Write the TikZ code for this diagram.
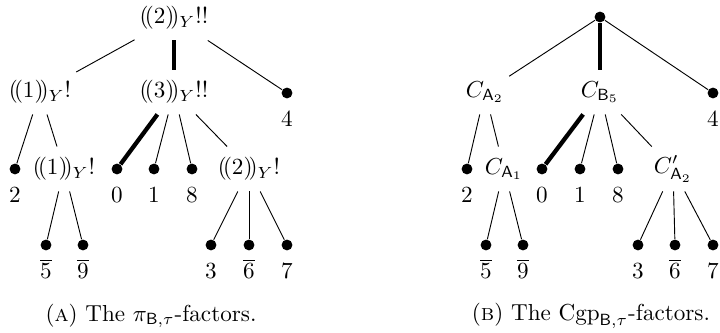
\documentclass[tikz,border=0pt]{standalone}
\usepackage{amsmath,amssymb}
\usetikzlibrary{positioning}

\begin{document}
\begin{tikzpicture}[x=0.0152cm, y=-0.0152cm,
  leaf/.style={circle, fill, inner sep=0pt, minimum size=4.7pt},
  factor/.style={inner xsep=2pt, inner ysep=0pt, minimum height=19pt},
  num/.style={inner sep=1pt, text height=6.44pt, text depth=0pt},
  heavy/.style={line width=1.85pt}]

\useasboundingbox (0,0) rectangle (720,333);

% --- (A) the pi-factors ---
\node[factor] (pr) at (174,18) {$(\!(2)\!)_Y!!$};

\node[factor] (pa) at (40,92) {$(\!(1)\!)_Y!$};
\node[factor] (pb) at (174,92) {$(\!(3)\!)_Y!!$};
\node[leaf] (pl4) at (287,93) {};
\node[num, below=4.2pt of pl4] (pt4) {$4$};

\node[leaf] (pl2) at (15,169) {};
\node[num, below=4.2pt of pl2] (pt2) {$2$};
\node[factor] (pc) at (64,169) {$(\!(1)\!)_Y!$};
\node[leaf] (pl0) at (117,169) {};
\node[num, below=4.2pt of pl0] (pt0) {$0$};
\node[leaf] (pl1) at (154,169) {};
\node[num, below=4.2pt of pl1] (pt1) {$1$};
\node[leaf] (pl8) at (192,169) {};
\node[num, below=4.2pt of pl8] (pt8) {$8$};
\node[factor] (pd) at (249,169) {$(\!(2)\!)_Y!$};

\node[leaf] (pl5) at (46,245) {};
\node[num, below=4.2pt of pl5] (pt5) {$\overline{5}$};
\node[leaf] (pl9) at (83,245) {};
\node[num, below=4.2pt of pl9] (pt9) {$\overline{9}$};
\node[leaf] (pl3) at (211,245) {};
\node[num, below=4.2pt of pl3] (pt3) {$3$};
\node[leaf] (pl6) at (249,245) {};
\node[num, below=4.2pt of pl6] (pt6) {$\overline{6}$};
\node[leaf] (pl7) at (287,245) {};
\node[num, below=4.2pt of pl7] (pt7) {$7$};

\draw (pr) -- (pa);
\draw[heavy] (pr) -- (pb);
\draw (pr) -- (pl4);
\draw (pa) -- (pl2);
\draw (pa) -- (pc);
\draw[heavy] (pb) -- (pl0);
\draw (pb) -- (pl1);
\draw (pb) -- (pl8);
\draw (pb) -- (pd);
\draw (pc) -- (pl5);
\draw (pc) -- (pl9);
\draw (pd) -- (pl3);
\draw (pd) -- (pl6);
\draw (pd) -- (pl7);

\node (capA) at (151,316) {(\textsc{a}) The $\pi_{\mathsf{B},\tau}$-factors.};

% --- (B) the Cgp-factors ---
\node[leaf] (cr) at (600,17) {};

\node[factor] (ca) at (485,92) {$C_{\mathsf{A}_2}$};
\node[factor] (cb) at (600,92) {$C_{\mathsf{B}_5}$};
\node[leaf] (cl4) at (713,93) {};
\node[num, below=4.2pt of cl4] (ct4) {$4$};

\node[leaf] (cl2) at (467,169) {};
\node[num, below=4.2pt of cl2] (ct2) {$2$};
\node[factor] (cc) at (504,169) {$C_{\mathsf{A}_1}$};
\node[leaf] (cl0) at (542,169) {};
\node[num, below=4.2pt of cl0] (ct0) {$0$};
\node[leaf] (cl1) at (580,169) {};
\node[num, below=4.2pt of cl1] (ct1) {$1$};
\node[leaf] (cl8) at (618,169) {};
\node[num, below=4.2pt of cl8] (ct8) {$8$};
\node[factor] (cd) at (673,169) {$C'_{\mathsf{A}_2}$};

\node[leaf] (cl5) at (486,245) {};
\node[num, below=4.2pt of cl5] (ct5) {$\overline{5}$};
\node[leaf] (cl9) at (523,245) {};
\node[num, below=4.2pt of cl9] (ct9) {$\overline{9}$};
\node[leaf] (cl3) at (638,245) {};
\node[num, below=4.2pt of cl3] (ct3) {$3$};
\node[leaf] (cl6) at (675,245) {};
\node[num, below=4.2pt of cl6] (ct6) {$\overline{6}$};
\node[leaf] (cl7) at (713,245) {};
\node[num, below=4.2pt of cl7] (ct7) {$7$};

\draw (cr) -- (ca);
\draw[heavy] (cr) -- (cb);
\draw (cr) -- (cl4);
\draw (ca) -- (cl2);
\draw (ca) -- (cc);
\draw[heavy] (cb) -- (cl0);
\draw (cb) -- (cl1);
\draw (cb) -- (cl8);
\draw (cb) -- (cd);
\draw (cc) -- (cl5);
\draw (cc) -- (cl9);
\draw (cd) -- (cl3);
\draw (cd) -- (cl6);
\draw (cd) -- (cl7);

\node (capB) at (591,316) {(\textsc{b}) The $\mathrm{Cgp}_{\mathsf{B},\tau}$-factors.};

\end{tikzpicture}
\end{document}
